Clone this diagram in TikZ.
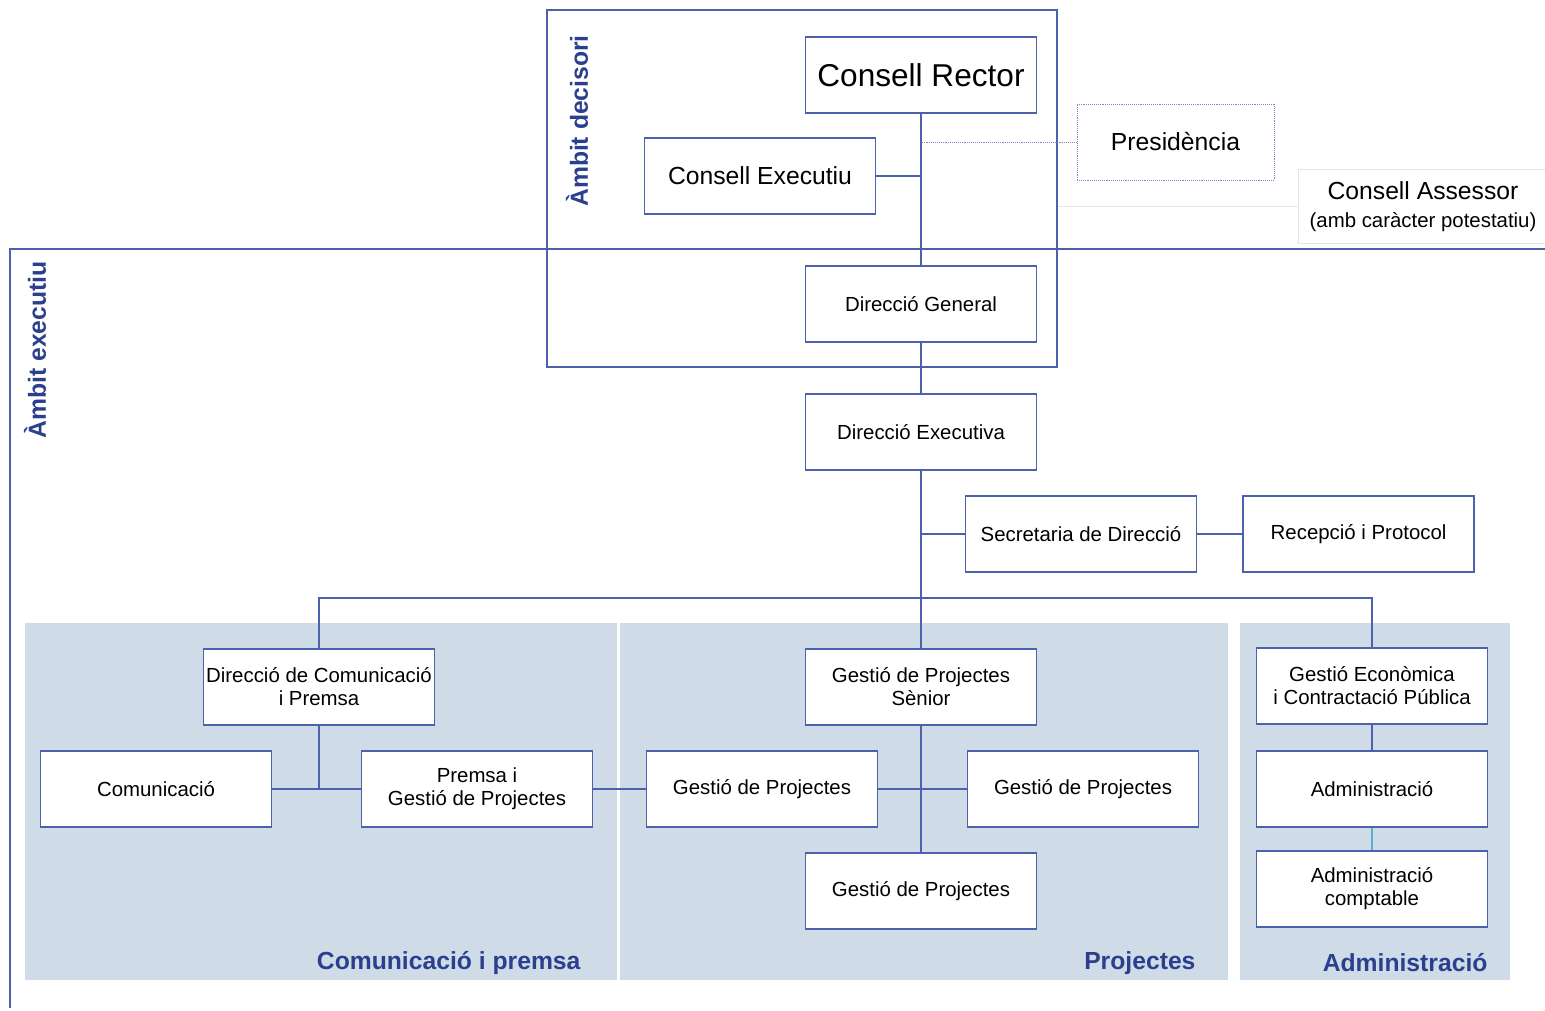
\documentclass[tikz,border=0pt]{standalone}
\usepackage{fontspec}
\setmainfont{Liberation Sans}
\usetikzlibrary{positioning}
\usepackage{xcolor}

\definecolor{orgblue}{HTML}{4D62AD}
\definecolor{labelblue}{HTML}{2A3F8E}
\definecolor{panelfill}{HTML}{CFDCE8}
\definecolor{faintgray}{HTML}{E2E4E8}
\definecolor{lightcyan}{HTML}{5AAFD0}

\newcommand{\fsbig}{\fontsize{31.6}{36}\selectfont}
\newcommand{\fsmid}{\fontsize{24.7}{30}\selectfont}
\newcommand{\fssmall}{\fontsize{20.4}{23}\selectfont}

\tikzset{
	unit/.style={draw=orgblue, line width=1.6pt, fill=white, minimum width=231, minimum height=76, inner xsep=2, align=center, font=\fssmall},
	link/.style={draw=orgblue, line width=1.5pt},
	frame/.style={draw=orgblue, line width=1.6pt},
	scopelabel/.style={text=labelblue, font=\fsmid\bfseries, rotate=90},
	panellabel/.style={text=labelblue, font=\fsmid\bfseries},
	panel/.style={fill=panelfill}
}

\begin{document}
\begin{tikzpicture} [x=1pt, y=-1pt]
					\useasboundingbox (0, 0) rectangle (1545, 1011);

					\fill [panel] (25, 623) rectangle (617, 980);
					\fill [panel] (620, 623) rectangle (1228, 980);
					\fill [panel] (1240, 623) rectangle (1510, 980);
					\draw [white] [line width=1.5pt, dashed] (618.5, 623)--(618.5, 980);

					\draw [frame] (10, 1008)--(10, 249)--(1545, 249);
					\node [scopelabel] (executiu) at (35, 350) {Àmbit executiu};

					\node [frame, minimum width=510, minimum height=357] (decisori) at (802, 188.5) {};
					\node [scopelabel] (decisorilabel) at (577, 121) {Àmbit decisori};

					\node [unit, font=\fsbig] (rector) at (921, 75) {Consell Rector};
					\node [unit, font=\fsmid] (cexec) at (760, 176) {Consell Executiu};
					\node [unit, font=\fsmid, draw=orgblue!75, line width=0.9pt, densely dotted, minimum width=197] (pres) at (1175.5, 142) {Presidència};
					\node [unit, font=\fsmid, draw=faintgray, line width=1pt, minimum width=250, minimum height=74] (assessor) at (1423, 207) {Consell Assessor\\[-2pt]{\fssmall (amb caràcter potestatiu)}};

					\node [unit] (dgen) at (921, 304) {Direcció General};
					\node [unit] (dexec) at (921, 432) {Direcció Executiva};
					\node [unit] (secr) at (1081, 534) {Secretaria de Direcció};
					\node [unit, right=45 of secr] (recep) {Recepció i Protocol};

					\node [unit] (dcom) at (319, 687) {Direcció de Comunicació\\i Premsa};
					\node [unit] (com) at (156, 789) {Comunicació};
					\node [unit] (premsa) at (477, 789) {Premsa i\\Gestió de Projectes};

					\node [unit] (senior) at (921, 687) {Gestió de Projectes\\Sènior};
					\node [unit] (gpleft) at (762, 789) {Gestió de Projectes};
					\node [unit] (gpright) at (1083, 789) {Gestió de Projectes};
					\node [unit] (gpbottom) at (921, 891) {Gestió de Projectes};

					\node [unit] (econ) at (1372, 686) {Gestió Econòmica\\i Contractació Pública};
					\node [unit] (admin) at (1372, 789) {Administració};
					\node [unit] (comptable) at (1372, 889) {Administració\\comptable};

					\node [panellabel, anchor=base east] (lcom) at (584, 969) {Comunicació i premsa};
					\node [panellabel, anchor=base east] (lproj) at (1199, 969) {Projectes};
					\node [panellabel, anchor=base east] (ladmin) at (1491, 971) {Administració};

					\coordinate (branch) at (921, 598);

					\draw [link] (rector.south)--(dgen.north);
					\draw [link] (cexec.east)--(cexec.east -| rector.south);
					\draw [orgblue!75] [line width=0.9pt, densely dotted] (pres.west)--(pres.west -| rector.south);
					\draw [faintgray] [line width=1pt] (assessor.west)--(assessor.west -| decisori.east);
					\draw [link] (dgen.south)--(dexec.north);
					\draw [link] (dexec.south)--(senior.north);
					\draw [link] (secr.west)--(secr.west -| dexec.south);
					\draw [link] (secr.east)--(recep.west);
					\draw [link] (dcom.north) |- (branch) -| (econ.north);

					\draw [link] (dcom.south)--(dcom.south |- com.east);
					\draw [link] (com.east)--(premsa.west);
					\draw [link] (premsa.east)--(gpleft.west);
					\draw [link] (senior.south)--(gpbottom.north);
					\draw [link] (gpleft.east)--(gpright.west);
					\draw [link] (econ.south)--(admin.north);
					\draw [lightcyan] [line width=1.5pt] (admin.south)--(comptable.north);
				\end{tikzpicture}
\end{document}
